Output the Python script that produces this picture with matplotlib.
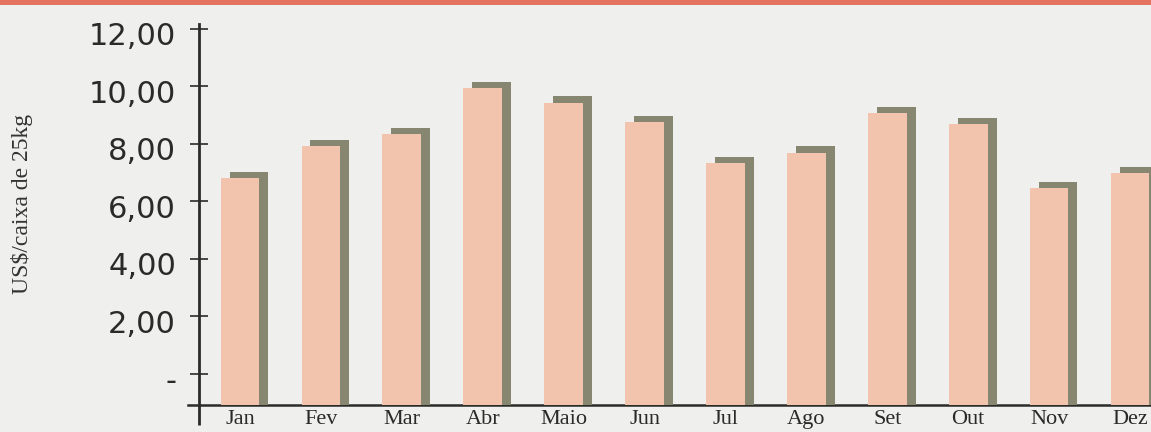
import matplotlib
matplotlib.use("Agg")
import matplotlib.pyplot as plt
from matplotlib.patches import Rectangle
from matplotlib.transforms import ScaledTranslation

months = ["Jan", "Fev", "Mar", "Abr", "Maio", "Jun", "Jul", "Ago", "Set", "Out", "Nov", "Dez"]
prices = [6.82, 7.94, 8.35, 9.94, 9.44, 8.75, 7.35, 7.70, 9.09, 8.70, 6.46, 7.00]
ytick_values = [0, 2, 4, 6, 8, 10, 12]
ytick_labels = ["-", "2,00", "4,00", "6,00", "8,00", "10,00", "12,00"]
ylabel = "US$/caixa de 25kg"

W, H, DPI = 1151, 432, 100
fig = plt.figure(figsize=(W / DPI, H / DPI), dpi=DPI)
fig.patch.set_facecolor("#efefed")

# top red strip of the page
fig.patches.append(Rectangle((0, 1 - 5 / H), 1, 5 / H, transform=fig.transFigure,
                             facecolor="#e4735f", edgecolor="none", zorder=0))

ax = fig.add_axes([199 / W, 27 / H, 1 - 199 / W, (405 - 24) / H])
ax.set_facecolor("none")

base = -1.08
ax.set_ylim(base, 12.17)
ax.set_xlim(-0.507, 11.26)

pink = "#f3c4ad"
shade = "#878670"
bw = 0.48
dx = 0.111
dy = 0.21
x = list(range(len(months)))

# baseline (floor edge)
ax.plot([-0.64, 11.4], [base, base], color="#2b2b28", lw=1.8, clip_on=False, zorder=1)

ax.bar([i + dx for i in x], [v + dy - base for v in prices], bottom=base, width=bw,
       color=shade, edgecolor="none", zorder=2)
ax.bar(x, [v - base for v in prices], bottom=base, width=bw,
       color=pink, edgecolor="none", zorder=3)

# axes styling
for s in ["top", "right", "bottom"]:
    ax.spines[s].set_visible(False)
ax.spines["left"].set_color("#2b2b28")
ax.spines["left"].set_linewidth(2.0)
ax.plot([0, 0], [base - 0.7, base], transform=ax.get_yaxis_transform(),
        color="#2b2b28", lw=2.0, clip_on=False, solid_capstyle="butt")

ax.set_yticks(ytick_values)
ax.set_yticklabels(ytick_labels, fontsize=22, family="DejaVu Sans", color="#2a2a2a")
ax.tick_params(axis="y", direction="inout", length=13, width=1.2, color="#2b2b28", pad=10)
off = ScaledTranslation(0, -0.05, fig.dpi_scale_trans)
for lab in ax.get_yticklabels():
    lab.set_transform(lab.get_transform() + off)

ax.set_xticks(x)
ax.set_xticklabels(months, fontsize=16, family="Liberation Serif", color="#2a2a2a")
ax.tick_params(axis="x", length=0, pad=3.5)

fig.text(22 / W, 1 - 204 / H, ylabel, rotation=90, ha="center", va="center",
         fontsize=17, family="Liberation Serif", color="#333333")

fig.savefig("out.png", dpi=DPI, facecolor=fig.get_facecolor())
